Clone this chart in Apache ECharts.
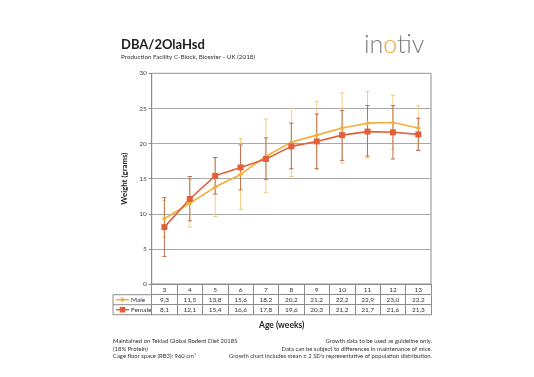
<!DOCTYPE html>
<html>
<head>
<meta charset="utf-8">
<script src="https://cdn.jsdelivr.net/npm/echarts@6/dist/echarts.min.js"></script>
<style>html,body{margin:0;padding:0;background:#fff;}#c{width:534px;height:377px;}</style>
</head>
<body>
<div id="c"></div>
<script>
var weeks = ['3','4','5','6','7','8','9','10','11','12','13'];
var male = [9.3, 11.5, 13.8, 15.6, 18.2, 20.2, 21.2, 22.2, 22.9, 23.0, 22.2];
var female = [8.1, 12.1, 15.4, 16.6, 17.8, 19.6, 20.3, 21.2, 21.7, 21.6, 21.3];
var maleLow = [6.7, 8.1, 9.6, 10.6, 13.0, 15.3, 16.4, 17.2, 17.9, 19.2, 19.1];
var maleHigh = [11.9, 14.9, 18.0, 20.7, 23.5, 25.0, 26.0, 27.2, 27.4, 26.9, 25.4];
var femaleLow = [3.9, 9.0, 12.8, 13.4, 14.9, 16.4, 16.4, 17.6, 18.2, 17.8, 19.0];
var femaleHigh = [12.3, 15.3, 18.0, 19.8, 20.8, 22.9, 24.2, 24.7, 25.4, 25.4, 23.6];
var yTicks = [0, 5, 10, 15, 20, 25, 30];

var FONT = 'Lato';
var maleColor = '#f4ae3a', femaleColor = '#e1603a';
var maleErr = '#f2c875', femaleErr = '#b4654c';
function fmt(v){ return v.toFixed(1).replace('.', ','); }

var chart = echarts.init(document.getElementById('c'));
function errSeries(low, high, color, name){
  return {
    type: 'custom', name: name, xAxisIndex: 0, yAxisIndex: 0, z: 1,
    data: low.map(function(l, i){ return [i, l, high[i]]; }),
    renderItem: function(params, api){
      var i = api.value(0);
      var p1 = api.coord([i, api.value(1)]);
      var p2 = api.coord([i, api.value(2)]);
      var w = 2.2;
      var st = {stroke: color, lineWidth: 0.9};
      return {type: 'group', children: [
        {type: 'line', shape: {x1: p1[0], y1: p1[1], x2: p2[0], y2: p2[1]}, style: st},
        {type: 'line', shape: {x1: p1[0]-w, y1: p1[1], x2: p1[0]+w, y2: p1[1]}, style: st},
        {type: 'line', shape: {x1: p2[0]-w, y1: p2[1], x2: p2[0]+w, y2: p2[1]}, style: st}
      ]};
    },
    silent: true
  };
}
var tableAxis = function(data, offset){
  return {
    type: 'category', gridIndex: 0, data: data, position: 'bottom', offset: offset,
    axisLine: {show: true, lineStyle: {color: '#8c8c8c', width: 1}},
    axisTick: {show: true, length: 10.4, lineStyle: {color: '#8c8c8c'}},
    axisLabel: {fontFamily: FONT, fontSize: 6.5, color: '#333', margin: 2.2},
    splitLine: {show: false}
  };
};
var legendX = 113, row2 = 294.7, row3 = 304.7, row4 = 314.7, plotL = 151.7;
var footSt = {font: '5.9px ' + FONT, fill: '#333'};
function foot(t, pos){ var o = {type: 'text', top: pos.top, style: Object.assign({text: t}, footSt)}; if (pos.left != null) o.left = pos.left; else o.right = pos.right; return o; }
chart.setOption({
  animation: false,
  textStyle: {fontFamily: FONT},
  grid: {left: plotL, right: 103, top: 73.3, bottom: 93, show: true, borderColor: '#8c8c8c', borderWidth: 1},
  xAxis: [
    tableAxis(weeks, 0),
    tableAxis(male.map(fmt), 10.7),
    tableAxis(female.map(fmt), 20.7)
  ],
  yAxis: {
    type: 'value', min: yTicks[0], max: yTicks[yTicks.length-1], interval: 5,
    axisLine: {show: true, lineStyle: {color: '#8c8c8c'}},
    axisTick: {show: true, length: 3, lineStyle: {color: '#8c8c8c'}},
    axisLabel: {fontFamily: FONT, fontSize: 6.5, color: '#444', margin: 5},
    splitLine: {show: true, lineStyle: {color: '#a8a8a8', width: 1}},
    name: 'Weight (grams)', nameLocation: 'middle', nameGap: 20, nameRotate: 90,
    nameTextStyle: {fontFamily: FONT, fontSize: 7.8, fontWeight: 'bold', color: '#222'}
  },
  series: [
    errSeries(maleLow, maleHigh, maleErr, 'maleErr'),
    errSeries(femaleLow, femaleHigh, femaleErr, 'femaleErr'),
    {type: 'line', name: 'Male', data: male, z: 3, symbol: 'diamond', symbolSize: 5,
     lineStyle: {color: maleColor, width: 1.6}, itemStyle: {color: maleColor}},
    {type: 'line', name: 'Female', data: female, z: 4, symbol: 'rect', symbolSize: 6,
     lineStyle: {color: femaleColor, width: 1.6}, itemStyle: {color: femaleColor}}
  ],
  graphic: [
    {type: 'text', left: 121, top: 38.5, style: {text: 'DBA/2OlaHsd', font: 'bold 13px ' + FONT, fill: '#222'}},
    {type: 'text', left: 121, top: 53.5, style: {text: 'Production Facility C-Block, Bicester - UK (2018)', font: '6.3px ' + FONT, fill: '#333'}},
    {type: 'text', left: 364, top: 32, style: {
      text: '{g|in}{o|o}{g|tiv}',
      rich: {g: {fontFamily: FONT, fontSize: 25, fontWeight: 300, fill: '#7c7c7c'}, o: {fontFamily: FONT, fontSize: 25, fontWeight: 300, fill: '#f0a22e'}}
    }},
    {type: 'line', shape: {x1: legendX, y1: row2, x2: plotL, y2: row2}, style: {stroke: '#8c8c8c', lineWidth: 1}},
    {type: 'line', shape: {x1: legendX, y1: row3, x2: plotL, y2: row3}, style: {stroke: '#8c8c8c', lineWidth: 1}},
    {type: 'line', shape: {x1: legendX, y1: row4, x2: 431, y2: row4}, style: {stroke: '#8c8c8c', lineWidth: 1}},
    {type: 'line', shape: {x1: legendX, y1: row2, x2: legendX, y2: row4}, style: {stroke: '#8c8c8c', lineWidth: 1}},
    {type: 'line', shape: {x1: 116, y1: (row2+row3)/2, x2: 129, y2: (row2+row3)/2}, style: {stroke: maleColor, lineWidth: 1.4}},
    {type: 'polygon', shape: {points: [[122.5,297.2],[125,299.7],[122.5,302.2],[120,299.7]]}, style: {fill: maleColor}},
    {type: 'text', left: 131, top: 296, style: {text: 'Male', font: '6.5px ' + FONT, fill: '#333'}},
    {type: 'line', shape: {x1: 116, y1: (row3+row4)/2, x2: 129, y2: (row3+row4)/2}, style: {stroke: femaleColor, lineWidth: 1.4}},
    {type: 'rect', shape: {x: 119.7, y: 306.9, width: 5.6, height: 5.6}, style: {fill: femaleColor}},
    {type: 'text', left: 131, top: 306, style: {text: 'Female', font: '6.5px ' + FONT, fill: '#333'}},
    {type: 'text', left: 259, top: 321, style: {text: 'Age (weeks)', font: 'bold 8.5px ' + FONT, fill: '#222'}},
    foot('Maintained on Teklad Global Rodent Diet 2018S', {left: 113, top: 338}),
    foot('(18% Protein)', {left: 113, top: 345.7}),
    foot('Cage floor space (RB3): 960 cm²', {left: 113, top: 353.4}),
    foot('Growth data to be used as guideline only.', {right: 102, top: 338}),
    foot('Data can be subject to differences in maintenance of mice.', {right: 102, top: 345.7}),
    foot('Growth chart includes mean ± 2 SD\'s representative of population distribution.', {right: 102, top: 353.4})
  ]
});
</script>
</body>
</html>
